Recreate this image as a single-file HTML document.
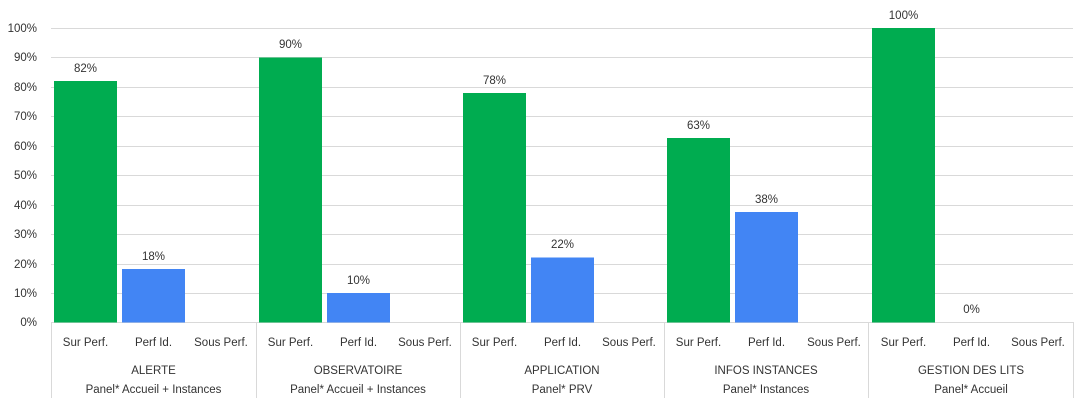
<!DOCTYPE html>
<html><head><meta charset="utf-8"><style>
html,body{margin:0;padding:0;background:#fff;}
svg text{font-family:"Liberation Sans",sans-serif;font-size:11.5px;fill:#333;}
</style></head><body>
<svg width="1088" height="404" xmlns="http://www.w3.org/2000/svg">
<g stroke="#d9d9d9" stroke-width="1">
<line x1="51" x2="1073" y1="28.5" y2="28.5"/>
<line x1="51" x2="1073" y1="57.5" y2="57.5"/>
<line x1="51" x2="1073" y1="87.5" y2="87.5"/>
<line x1="51" x2="1073" y1="116.5" y2="116.5"/>
<line x1="51" x2="1073" y1="146.5" y2="146.5"/>
<line x1="51" x2="1073" y1="175.5" y2="175.5"/>
<line x1="51" x2="1073" y1="205.5" y2="205.5"/>
<line x1="51" x2="1073" y1="234.5" y2="234.5"/>
<line x1="51" x2="1073" y1="264.5" y2="264.5"/>
<line x1="51" x2="1073" y1="293.5" y2="293.5"/>
<line x1="51" x2="1073" y1="322.5" y2="322.5"/>
<line x1="51.5" x2="51.5" y1="322" y2="398"/>
<line x1="256.5" x2="256.5" y1="322" y2="398"/>
<line x1="460.5" x2="460.5" y1="322" y2="398"/>
<line x1="664.5" x2="664.5" y1="322" y2="398"/>
<line x1="868.5" x2="868.5" y1="322" y2="398"/>
<line x1="1073.5" x2="1073.5" y1="322" y2="398"/>
</g>
<g text-anchor="end">
<text x="37" y="32">100%</text><text x="37" y="61">90%</text><text x="37" y="91">80%</text>
<text x="37" y="120">70%</text><text x="37" y="150">60%</text><text x="37" y="179">50%</text>
<text x="37" y="209">40%</text><text x="37" y="238">30%</text><text x="37" y="268">20%</text>
<text x="37" y="297">10%</text><text x="37" y="326">0%</text>
</g>
<g>
<rect x="54" y="81" width="63" height="241.5" fill="#00ac50"/>
<rect x="122" y="269" width="63" height="53.5" fill="#4285f4"/>
<rect x="259" y="57.5" width="63" height="265" fill="#00ac50"/>
<rect x="327" y="293" width="63" height="29.5" fill="#4285f4"/>
<rect x="463" y="93" width="63" height="229.5" fill="#00ac50"/>
<rect x="531" y="257.5" width="63" height="65" fill="#4285f4"/>
<rect x="667" y="138" width="63" height="184.5" fill="#00ac50"/>
<rect x="735" y="212" width="63" height="110.5" fill="#4285f4"/>
<rect x="872" y="28" width="63" height="294.5" fill="#00ac50"/>
</g>
<g text-anchor="middle">
<text x="85.5" y="72">82%</text><text x="153.5" y="260">18%</text>
<text x="290.5" y="48">90%</text><text x="358.5" y="284">10%</text>
<text x="494.5" y="84">78%</text><text x="562.5" y="248">22%</text>
<text x="698.5" y="129">63%</text><text x="766.5" y="203">38%</text>
<text x="903.5" y="19">100%</text><text x="971.5" y="313">0%</text>
</g>
<g text-anchor="middle">
<text x="85.5" y="346">Sur Perf.</text><text x="153.5" y="346">Perf Id.</text><text x="221" y="346">Sous Perf.</text>
<text x="290.5" y="346">Sur Perf.</text><text x="358.5" y="346">Perf Id.</text><text x="425" y="346">Sous Perf.</text>
<text x="494.5" y="346">Sur Perf.</text><text x="562.5" y="346">Perf Id.</text><text x="629" y="346">Sous Perf.</text>
<text x="698.5" y="346">Sur Perf.</text><text x="766.5" y="346">Perf Id.</text><text x="834" y="346">Sous Perf.</text>
<text x="903.5" y="346">Sur Perf.</text><text x="971.5" y="346">Perf Id.</text><text x="1038" y="346">Sous Perf.</text>
<text x="153.5" y="374">ALERTE</text><text x="153.5" y="393">Panel* Accueil + Instances</text>
<text x="358" y="374">OBSERVATOIRE</text><text x="358" y="393">Panel* Accueil + Instances</text>
<text x="562" y="374">APPLICATION</text><text x="562" y="393">Panel* PRV</text>
<text x="766" y="374">INFOS INSTANCES</text><text x="766" y="393">Panel* Instances</text>
<text x="971" y="374">GESTION DES LITS</text><text x="971" y="393">Panel* Accueil</text>
</g>
</svg>
</body></html>
